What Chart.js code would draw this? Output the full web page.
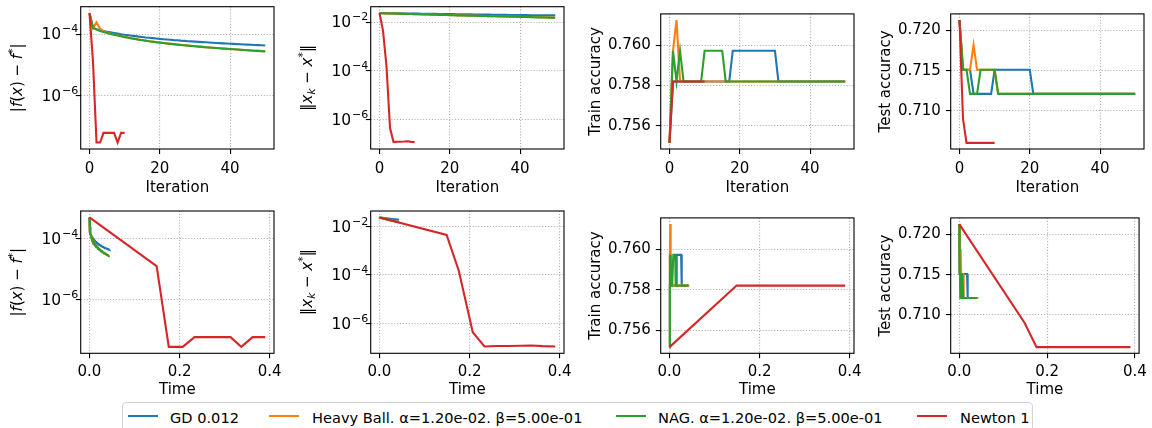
<!DOCTYPE html>
<html><head><meta charset="utf-8">
<script src="https://cdn.jsdelivr.net/npm/chart.js@4.4.1/dist/chart.umd.min.js"></script>
<style>
html,body{margin:0;padding:0;background:#fff;}
body{width:1152px;height:428px;overflow:hidden;position:relative;font-family:'DejaVu Sans';}
canvas{position:absolute;}
#legend{position:absolute;left:122px;top:402px;width:911px;height:40px;border:1px solid #d3d3d3;border-radius:4px;box-sizing:border-box;background:#fff;}
#legend .ln{position:absolute;height:2.1px;top:11.8px;width:30px;}
#legend .tx{position:absolute;top:6.4px;font-size:14.6px;line-height:18px;color:#000;white-space:nowrap;}
</style>
</head><body>
<canvas id="c0"></canvas><canvas id="c1"></canvas><canvas id="c2"></canvas><canvas id="c3"></canvas>
<canvas id="c4"></canvas><canvas id="c5"></canvas><canvas id="c6"></canvas><canvas id="c7"></canvas>
<div id="legend"></div>
<script>
// ---------------- DATA ----------------
const seriesNames = ['GD 0.012', 'Heavy Ball. α=1.20e-02. β=5.00e-01', 'NAG. α=1.20e-02. β=5.00e-01', 'Newton 1'];
const seriesColors = ['#1f77b4', '#ff7f0e', '#2ca02c', '#d62728'];

const iterations = [0,1,2,3,4,5,6,7,8,9,10,11,12,13,14,15,16,17,18,19,20,21,22,23,24,25,26,27,28,29,30,31,32,33,34,35,36,37,38,39,40,41,42,43,44,45,46,47,48,49,50];
const newtonIterations = [0,1,2,3,4,5,6,7,8,9,10];

const gdTime = [0,.0009,.0018,.0027,.0036,.0045,.0053,.0062,.0071,.0080,
  .0089,.0098,.0107,.0116,.0125,.0134,.0142,.0151,.0160,.0169,
  .0178,.0187,.0196,.0205,.0214,.0222,.0231,.0240,.0249,.0258,
  .0267,.0276,.0285,.0294,.0303,.0311,.0320,.0329,.0338,.0347,
  .0356,.0365,.0374,.0383,.0392,.0400,.0409,.0418,.0427,.0436,.0445];
const hbTime = [0,.0009,.0017,.0026,.0035,.0044,.0052,.0061,.0070,.0078,
  .0087,.0096,.0104,.0113,.0122,.0131,.0139,.0148,.0157,.0165,
  .0174,.0183,.0191,.0200,.0209,.0218,.0226,.0235,.0244,.0252,
  .0261,.0270,.0278,.0287,.0296,.0305,.0313,.0322,.0331,.0339,
  .0348,.0357,.0365,.0374,.0383,.0392,.0400,.0409,.0418,.0426,.0435];
const nagTime = [0,.0009,.0017,.0026,.0034,.0043,.0051,.0060,.0068,.0077,
  .0085,.0094,.0102,.0111,.0119,.0128,.0136,.0145,.0153,.0162,
  .0170,.0179,.0187,.0196,.0204,.0213,.0221,.0230,.0238,.0247,
  .0255,.0264,.0272,.0281,.0289,.0298,.0306,.0315,.0323,.0332,
  .0340,.0349,.0357,.0366,.0374,.0383,.0391,.0400,.0408,.0417,.0425];
const newtonTime = [0,0.149,0.176,0.207,0.233,0.259,0.286,0.313,0.337,0.362,0.390];

// |f(x) - f*|
const gdF = [4.8e-4,1.60e-4,1.45e-4,1.35e-4,1.27e-4,1.20e-4,1.14e-4,1.09e-4,1.04e-4,9.9e-5,
  9.5e-5,9.2e-5,8.9e-5,8.6e-5,8.3e-5,8.1e-5,7.8e-5,7.6e-5,7.4e-5,7.2e-5,
  7.0e-5,6.85e-5,6.7e-5,6.55e-5,6.4e-5,6.3e-5,6.15e-5,6.05e-5,5.9e-5,5.8e-5,
  5.7e-5,5.6e-5,5.5e-5,5.42e-5,5.34e-5,5.25e-5,5.17e-5,5.1e-5,5.02e-5,4.95e-5,
  4.88e-5,4.81e-5,4.75e-5,4.68e-5,4.62e-5,4.56e-5,4.5e-5,4.45e-5,4.39e-5,4.34e-5,4.28e-5];
const hbF = [4.8e-4,1.57e-4,2.40e-4,1.50e-4,1.25e-4,1.14e-4,1.05e-4,9.8e-5,9.2e-5,8.7e-5,
  8.2e-5,7.75e-5,7.35e-5,7.0e-5,6.7e-5,6.42e-5,6.15e-5,5.9e-5,5.7e-5,5.5e-5,
  5.33e-5,5.15e-5,5.0e-5,4.86e-5,4.72e-5,4.59e-5,4.47e-5,4.35e-5,4.24e-5,4.14e-5,
  4.04e-5,3.95e-5,3.86e-5,3.77e-5,3.69e-5,3.61e-5,3.54e-5,3.47e-5,3.4e-5,3.34e-5,
  3.28e-5,3.22e-5,3.16e-5,3.11e-5,3.05e-5,3.0e-5,2.95e-5,2.9e-5,2.85e-5,2.81e-5,2.77e-5];
const nagF = [4.8e-4,1.57e-4,1.40e-4,1.27e-4,1.17e-4,1.09e-4,1.02e-4,9.6e-5,9.0e-5,8.5e-5,
  8.0e-5,7.6e-5,7.25e-5,6.9e-5,6.6e-5,6.35e-5,6.1e-5,5.85e-5,5.65e-5,5.45e-5,
  5.3e-5,5.12e-5,4.97e-5,4.83e-5,4.7e-5,4.57e-5,4.45e-5,4.33e-5,4.22e-5,4.12e-5,
  4.02e-5,3.93e-5,3.84e-5,3.76e-5,3.68e-5,3.6e-5,3.53e-5,3.46e-5,3.39e-5,3.33e-5,
  3.27e-5,3.21e-5,3.15e-5,3.1e-5,3.04e-5,2.99e-5,2.94e-5,2.89e-5,2.85e-5,2.8e-5,2.76e-5];
const newtonF = [4.8e-4,1.26e-5,3.0e-8,3.0e-8,6.2e-8,6.2e-8,6.2e-8,6.2e-8,3.0e-8,6.2e-8,6.2e-8];

// ||x_k - x*||
const gdDist = [0.0235,0.0234,0.0233,0.0232,0.0231,0.0230,0.0229,0.0228,0.0227,0.0226,
  0.0225,0.0224,0.0223,0.0222,0.0221,0.0220,0.0219,0.0218,0.0217,0.0216,
  0.0215,0.0214,0.0213,0.0212,0.0211,0.0210,0.0209,0.0208,0.0207,0.0206,
  0.0205,0.0204,0.0203,0.0202,0.0201,0.0200,0.0199,0.0198,0.0197,0.0196,
  0.0195,0.0195,0.0194,0.0193,0.0193,0.0192,0.0192,0.0191,0.0191,0.0190,0.0190];
const hbDist = [0.0235,0.0233,0.0231,0.0229,0.0227,0.0225,0.0223,0.0221,0.0219,0.0217,
  0.0215,0.0213,0.0211,0.0209,0.0207,0.0205,0.0203,0.0201,0.0199,0.0198,
  0.0196,0.0194,0.0192,0.0191,0.0189,0.0187,0.0186,0.0184,0.0183,0.0181,
  0.0180,0.0178,0.0177,0.0175,0.0174,0.0172,0.0171,0.0170,0.0168,0.0167,
  0.0166,0.0164,0.0163,0.0162,0.0160,0.0159,0.0158,0.0157,0.0155,0.0154,0.0153];
const nagDist = [0.0235,0.0232,0.0230,0.0228,0.0226,0.0224,0.0222,0.0220,0.0218,0.0216,
  0.0214,0.0212,0.0210,0.0208,0.0206,0.0204,0.0202,0.0200,0.0198,0.0197,
  0.0195,0.0193,0.0191,0.0190,0.0188,0.0186,0.0185,0.0183,0.0182,0.0180,
  0.0179,0.0177,0.0176,0.0174,0.0173,0.0171,0.0170,0.0169,0.0167,0.0166,
  0.0165,0.0163,0.0162,0.0161,0.0159,0.0158,0.0157,0.0156,0.0154,0.0153,0.0152];
const newtonDist = [0.0235,4.5e-3,1.5e-4,4.4e-7,1.15e-7,1.2e-7,1.2e-7,1.22e-7,1.25e-7,1.18e-7,1.15e-7];

// Train accuracy
const gdTrain = [0.75516,
  0.7582,0.7582,0.7582,0.7582,0.7582,0.7582,0.7582,0.7582,0.7582,0.7582,0.7582,0.7582,0.7582,0.7582,0.7582,0.7582,0.7582,
  0.75972,0.75972,0.75972,0.75972,0.75972,0.75972,0.75972,0.75972,0.75972,0.75972,0.75972,0.75972,0.75972,
  0.7582,0.7582,0.7582,0.7582,0.7582,0.7582,0.7582,0.7582,0.7582,0.7582,0.7582,0.7582,0.7582,0.7582,0.7582,0.7582,0.7582,0.7582,0.7582,0.7582];
const hbTrain = [0.75516,0.75972,0.76124,0.7582,
  0.7582,0.7582,0.7582,0.7582,0.7582,0.7582,0.7582,0.7582,0.7582,0.7582,0.7582,0.7582,0.7582,0.7582,0.7582,0.7582,
  0.7582,0.7582,0.7582,0.7582,0.7582,0.7582,0.7582,0.7582,0.7582,0.7582,0.7582,0.7582,0.7582,0.7582,0.7582,0.7582,
  0.7582,0.7582,0.7582,0.7582,0.7582,0.7582,0.7582,0.7582,0.7582,0.7582,0.7582,0.7582,0.7582,0.7582,0.7582];
const nagTrain = [0.75516,0.75972,0.7582,0.75972,
  0.7582,0.7582,0.7582,0.7582,0.7582,0.7582,
  0.75972,0.75972,0.75972,0.75972,0.75972,0.75972,
  0.7582,0.7582,0.7582,0.7582,0.7582,0.7582,0.7582,0.7582,0.7582,0.7582,0.7582,0.7582,0.7582,0.7582,0.7582,0.7582,0.7582,0.7582,0.7582,
  0.7582,0.7582,0.7582,0.7582,0.7582,0.7582,0.7582,0.7582,0.7582,0.7582,0.7582,0.7582,0.7582,0.7582,0.7582,0.7582];
const newtonTrain = [0.75516,0.7582,0.7582,0.7582,0.7582,0.7582,0.7582,0.7582,0.7582,0.7582,0.7582];

// Test accuracy
const gdTest = [0.7213,0.7151,0.7151,0.7151,
  0.7121,0.7121,0.7121,0.7121,0.7121,0.7121,
  0.7151,0.7151,0.7151,0.7151,0.7151,0.7151,0.7151,0.7151,0.7151,0.7151,0.7151,
  0.7121,0.7121,0.7121,0.7121,0.7121,0.7121,0.7121,0.7121,0.7121,0.7121,0.7121,0.7121,0.7121,0.7121,0.7121,
  0.7121,0.7121,0.7121,0.7121,0.7121,0.7121,0.7121,0.7121,0.7121,0.7121,0.7121,0.7121,0.7121,0.7121,0.7121];
const hbTest = [0.7213,0.7151,0.7151,0.7151,0.7182,0.7151,
  0.7151,0.7151,0.7151,0.7151,0.7151,
  0.7121,0.7121,0.7121,0.7121,0.7121,0.7121,0.7121,0.7121,0.7121,0.7121,0.7121,0.7121,0.7121,0.7121,0.7121,0.7121,0.7121,0.7121,0.7121,0.7121,
  0.7121,0.7121,0.7121,0.7121,0.7121,0.7121,0.7121,0.7121,0.7121,0.7121,0.7121,0.7121,0.7121,0.7121,0.7121,0.7121,0.7121,0.7121,0.7121,0.7121];
const nagTest = [0.7213,0.7151,0.7151,0.7121,0.7121,0.7121,
  0.7151,0.7151,0.7151,0.7151,0.7151,
  0.7121,0.7121,0.7121,0.7121,0.7121,0.7121,0.7121,0.7121,0.7121,0.7121,0.7121,0.7121,0.7121,0.7121,0.7121,0.7121,0.7121,0.7121,0.7121,0.7121,
  0.7121,0.7121,0.7121,0.7121,0.7121,0.7121,0.7121,0.7121,0.7121,0.7121,0.7121,0.7121,0.7121,0.7121,0.7121,0.7121,0.7121,0.7121,0.7121,0.7121];
const newtonTest = [0.7213,0.7090,0.7060,0.7060,0.7060,0.7060,0.7060,0.7060,0.7060,0.7060,0.7060];

// ticks
const iterTicks = [0, 20, 40];
const iterTickLabels = ['0', '20', '40'];
const timeTicks = [0, 0.2, 0.4];
const timeTickLabels = ['0.0', '0.2', '0.4'];
const fTicks = [1e-4, 1e-6];
const fTickLabels = ['10^\u22124', '10^\u22126'];
const distTicks = [1e-2, 1e-4, 1e-6];
const distTickLabels = ['10^\u22122', '10^\u22124', '10^\u22126'];
const trainTicks = [0.756, 0.758, 0.760];
const trainTickLabels = ['0.756', '0.758', '0.760'];
const testTicks = [0.710, 0.715, 0.720];
const testTickLabels = ['0.710', '0.715', '0.720'];

// ---------------- CHARTS ----------------
const FS = 15;
Chart.defaults.font.family = "'DejaVu Sans'";
Chart.defaults.font.size = FS;
Chart.defaults.color = '#000';

const R = FS + 'px "DejaVu Sans"';
const I = 'italic ' + FS + 'px "DejaVu Sans"';
const S = (FS * 0.7).toFixed(2) + 'px "DejaVu Sans"';
const SI = 'italic ' + (FS * 0.7).toFixed(2) + 'px "DejaVu Sans"';
const fTitle = [{t:'|',f:R},{t:'f',f:I},{t:'(',f:R},{t:'x',f:I},{t:')',f:R},{t:' \u2212 ',f:R},{t:'f',f:I},{t:'*',f:S,dy:-6},{t:'|',f:R}];
const distTitle = [{t:'\u2016',f:R},{t:'x',f:I},{t:'k',f:SI,dy:3},{t:' \u2212 ',f:R},{t:'x',f:I},{t:'*',f:S,dy:-6},{t:'\u2016',f:R}];

const metrics = {
  f:     {ys:[gdF,hbF,nagF,newtonF], log:true, ticks:fTicks, labels:fTickLabels, math:fTitle},
  dist:  {ys:[gdDist,hbDist,nagDist,newtonDist], log:true, ticks:distTicks, labels:distTickLabels, math:distTitle},
  train: {ys:[gdTrain,hbTrain,nagTrain,newtonTrain], log:false, ticks:trainTicks, labels:trainTickLabels, title:'Train accuracy'},
  test:  {ys:[gdTest,hbTest,nagTest,newtonTest], log:false, ticks:testTicks, labels:testTickLabels, title:'Test accuracy'}
};
const xkinds = {
  iter: {xs:[iterations,iterations,iterations,newtonIterations], ticks:iterTicks, labels:iterTickLabels, title:'Iteration'},
  time: {xs:[gdTime,hbTime,nagTime,newtonTime], ticks:timeTicks, labels:timeTickLabels, title:'Time'}
};

function range(arrs, log) {
  let lo = Infinity, hi = -Infinity;
  arrs.forEach(a => a.forEach(v => { const w = log ? Math.log10(v) : v; lo = Math.min(lo, w); hi = Math.max(hi, w); }));
  const m = (hi - lo) * 0.05;
  lo -= m; hi += m;
  return log ? [Math.pow(10, lo), Math.pow(10, hi)] : [lo, hi];
}

// layout
const PLOT_W = 193.3, PLOT_H = 142.3;
const colPlotLeft = [80.7, 370.7, 660.7, 950.7];
const colCanvasLeft = [0, 290, 580, 870];
const colCanvasWidth = [290, 290, 290, 282];
const rowPlotTop = [6.7, 211];
const rowCanvasTop = [0, 204];
const rowCanvasHeight = [200, 196];
const rowXTitlePad = [3.0, 0.6];
const rowXTickPad = [6.4, 5.0];
const yTitlePad = [7.0, 7.0, 7.0, 7.0];

const framePlugin = {
  id: 'frame',
  afterDatasetsDraw(chart) {
    const {ctx, chartArea: a} = chart;
    ctx.save();
    ctx.strokeStyle = '#000';
    ctx.lineWidth = 1.1;
    ctx.strokeRect(a.left, a.top, a.right - a.left, a.bottom - a.top);
    ctx.restore();
  }
};
const mathTitlePlugin = {
  id: 'mathTitle',
  afterDraw(chart, args, opts) {
    if (!opts || !opts.segs) return;
    const ctx = chart.ctx;
    const a = chart.chartArea;
    ctx.save();
    ctx.translate(a.left + opts.dx, (a.top + a.bottom) / 2);
    ctx.rotate(-Math.PI / 2);
    let total = 0;
    opts.segs.forEach(s => { ctx.font = s.f; s.w = ctx.measureText(s.t).width; total += s.w; });
    let cx = -total / 2;
    ctx.fillStyle = '#000';
    ctx.textBaseline = 'alphabetic';
    opts.segs.forEach(s => { ctx.font = s.f; ctx.fillText(s.t, cx, s.dy || 0); cx += s.w; });
    ctx.restore();
  }
};
// power-of-ten tick labels with a real superscript exponent
const BASEF = '15.5px "DejaVu Sans"';
const SUPF = '11px "DejaVu Sans"';
const logLabelPlugin = {
  id: 'logLabels',
  afterDraw(chart, args, opts) {
    if (!opts || !opts.labels) return;
    const ctx = chart.ctx, s = chart.scales.y, a = chart.chartArea;
    ctx.save();
    ctx.fillStyle = '#000';
    ctx.textBaseline = 'alphabetic';
    opts.ticks.forEach((v, i) => {
      const parts = opts.labels[i].split('^');
      const y = s.getPixelForValue(v) + 5.2;
      ctx.font = BASEF; const wb = ctx.measureText(parts[0]).width;
      ctx.font = SUPF; const we = ctx.measureText(parts[1]).width;
      const right = a.left - 2.5;
      ctx.font = BASEF; ctx.fillText(parts[0], right - we - wb - 0.8, y);
      ctx.font = SUPF; ctx.fillText(parts[1], right - we, y - 7);
    });
    ctx.restore();
  }
};

const panels = [
  {row:0,col:0,x:'iter',y:'f'},{row:0,col:1,x:'iter',y:'dist'},{row:0,col:2,x:'iter',y:'train'},{row:0,col:3,x:'iter',y:'test'},
  {row:1,col:0,x:'time',y:'f'},{row:1,col:1,x:'time',y:'dist'},{row:1,col:2,x:'time',y:'train'},{row:1,col:3,x:'time',y:'test'}
];

const drawOrder = [3, 2, 1, 0]; // first dataset is painted last (Newton on top)

panels.forEach((p, idx) => {
  const cv = document.getElementById('c' + idx);
  const cl = colCanvasLeft[p.col], ct = rowCanvasTop[p.row];
  const cw = colCanvasWidth[p.col], ch = rowCanvasHeight[p.row];
  cv.width = cw; cv.height = ch;
  cv.style.left = cl + 'px'; cv.style.top = ct + 'px';
  cv.style.width = cw + 'px'; cv.style.height = ch + 'px';
  const pl = colPlotLeft[p.col], pt = rowPlotTop[p.row];
  const yW = pl - cl;
  const xH = ct + ch - (pt + PLOT_H);
  const padR = cl + cw - (pl + PLOT_W);
  const M = metrics[p.y], X = xkinds[p.x];
  const xr = range(X.xs, false);
  const yr = range(M.ys, M.log);
  const datasets = drawOrder.map(i => ({
    label: seriesNames[i],
    data: X.xs[i].map((xv, j) => ({x: xv, y: M.ys[i][j]})),
    borderColor: seriesColors[i],
    backgroundColor: seriesColors[i],
    borderWidth: 2.1,
    pointRadius: 0,
    tension: 0,
    fill: false
  }));
  const grid = {color:'#b0b0b0', lineWidth:1.1, tickLength:4.9, tickColor:'#000', tickWidth:1.1, tickBorderDash:[]};
  new Chart(cv, {
    type: 'line',
    data: {datasets},
    options: {
      responsive: false, animation: false, devicePixelRatio: 1,
      layout: {autoPadding: false, padding: {left: 0, top: pt - ct, right: padR, bottom: 0}},
      plugins: {
        legend: {display: false}, tooltip: {enabled: false},
        mathTitle: M.math ? {segs: M.math, dx: -58.3} : {},
        logLabels: M.log ? {ticks: M.ticks, labels: M.labels} : {}
      },
      scales: {
        x: {
          type: 'linear', min: xr[0], max: xr[1],
          afterBuildTicks: s => { s.ticks = X.ticks.map(v => ({value: v})); },
          afterFit: s => { s.height = xH; },
          ticks: {autoSkip: false, maxRotation: 0, minRotation: 0, padding: rowXTickPad[p.row], callback: (v, i) => X.labels[i]},
          grid: grid,
          border: {display: false, dash: [1.1, 1.8]},
          title: {display: true, text: X.title, padding: {top: 0, bottom: rowXTitlePad[p.row]}}
        },
        y: {
          type: M.log ? 'logarithmic' : 'linear', min: yr[0], max: yr[1],
          afterBuildTicks: s => { s.ticks = M.ticks.map(v => ({value: v})); },
          afterFit: s => { s.width = yW; },
          ticks: {display: !M.log, autoSkip: false, padding: 4.9, callback: (v, i) => M.labels[i]},
          grid: grid,
          border: {display: false, dash: [1.1, 1.8]},
          title: {display: !M.math, text: M.title || '', padding: {top: yTitlePad[p.col], bottom: 0}}
        }
      }
    },
    plugins: [framePlugin, mathTitlePlugin, logLabelPlugin]
  });
});

// legend
const lg = document.getElementById('legend');
const legendLineX = [5, 146, 493, 794];
const legendTextX = [47, 189, 535, 837];
seriesNames.forEach((name, i) => {
  const ln = document.createElement('div');
  ln.className = 'ln'; ln.style.left = legendLineX[i] + 'px'; ln.style.background = seriesColors[i];
  lg.appendChild(ln);
  const tx = document.createElement('div');
  tx.className = 'tx'; tx.style.left = legendTextX[i] + 'px'; tx.textContent = name;
  lg.appendChild(tx);
});
</script>
</body></html>
